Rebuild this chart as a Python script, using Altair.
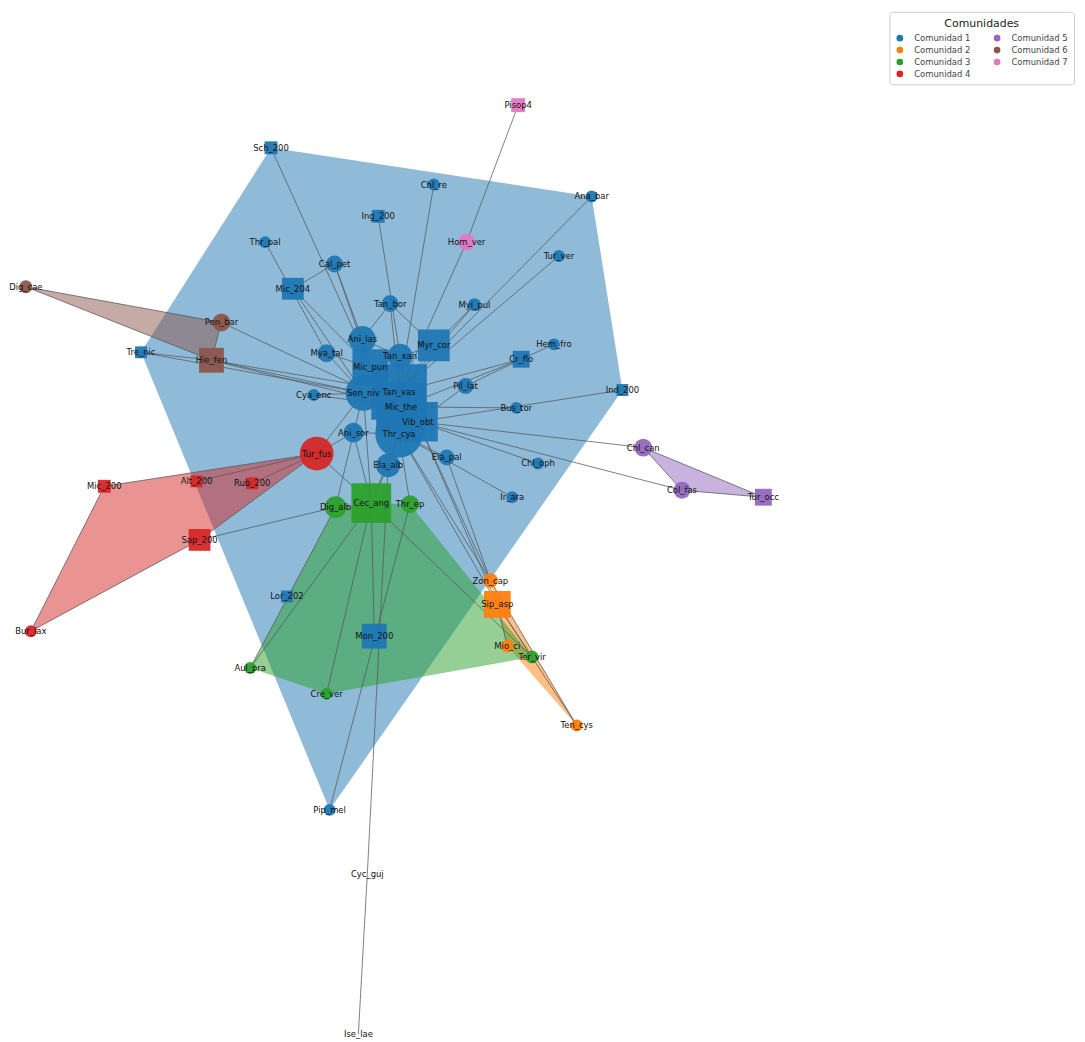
import altair as alt
import pandas as pd

# ---------------- data ----------------
names = [
    "Sch_200", "Chl_re", "Ana_bar", "Ing_200", "Thr_pal", "Cal_pet", "Tur_ver", "Mic_204",
    "Tan_bor", "Myi_pul", "Hem_fro", "Tre_nic", "Ani_las", "Myr_cor", "Mya_tal", "Tan_xan",
    "Mic_pun", "Cr_flo", "Pil_lat", "Sen_niv", "Tan_vas", "Mic_the", "Vib_obt", "Thr_cya",
    "Cya_enc", "Bus_tor", "Ind_200", "Ani_sor", "Ela_alb", "Ela_pal", "Chl_oph", "Ir_ara",
    "Lor_202", "Mon_200", "Pip_mel",
    "Zon_cap", "Sip_asp", "Mio_ci", "Ten_cys",
    "Cec_ang", "Dig_alb", "Thr_ep", "Aul_pra", "Cre_ver", "Ter_vir",
    "Tur_fus", "Alt_200", "Rub_200", "Mic_200", "Sap_200", "Bur_lax",
    "Chl_can", "Col_fas", "Tur_occ",
    "Dig_cae", "Pen_bar", "Hie_fen",
    "Pisop4", "Hom_ver",
    "Cyc_guj", "Ise_lae",
]
x_pos = [
    273, 437, 596, 381, 267, 337, 563, 295,
    393, 478, 558, 142, 365, 437, 329, 403,
    373, 525, 469, 366, 402, 404, 421, 402,
    316, 520, 627, 356, 391, 450, 542, 516,
    289, 377, 332,
    494, 501, 511, 581,
    374, 338, 413, 252, 329, 536,
    319, 198, 254, 105, 201, 31,
    648, 687, 769,
    26, 223, 213,
    522, 470,
    370, 361,
]
y_pos = [
    145, 182, 194, 214, 240, 262, 254, 287,
    302, 303, 343, 351, 338, 344, 352, 355,
    366, 358, 385, 392, 391, 406, 421, 433,
    394, 407, 389, 432, 465, 457, 463, 497,
    597, 637, 812,
    581, 605, 647, 727,
    503, 507, 504, 669, 695, 658,
    453, 481, 483, 486, 540, 632,
    447, 490, 497,
    285, 321, 359,
    102, 240,
    877, 1038,
]
community = [
    1, 1, 1, 1, 1, 1, 1, 1,
    1, 1, 1, 1, 1, 1, 1, 1,
    1, 1, 1, 1, 1, 1, 1, 1,
    1, 1, 1, 1, 1, 1, 1, 1,
    1, 1, 1,
    2, 2, 2, 2,
    3, 3, 3, 3, 3, 3,
    4, 4, 4, 4, 4, 4,
    5, 5, 5,
    6, 6, 6,
    7, 7,
    0, 0,
]
node_shape = [
    "square", "circle", "circle", "square", "circle", "circle", "circle", "square",
    "circle", "circle", "circle", "square", "circle", "square", "circle", "circle",
    "square", "square", "circle", "circle", "square", "square", "square", "circle",
    "circle", "circle", "square", "circle", "circle", "circle", "circle", "circle",
    "square", "square", "circle",
    "circle", "square", "circle", "circle",
    "square", "circle", "circle", "circle", "circle", "circle",
    "circle", "square", "square", "square", "square", "circle",
    "circle", "circle", "square",
    "circle", "circle", "square",
    "square", "circle",
    "circle", "circle",
]
node_weight = [
    13, 12, 12, 13, 12, 17, 12, 22,
    17, 13, 12, 12, 27, 32, 18, 25,
    36, 17, 16, 36, 56, 50, 40, 48,
    12, 12, 12, 20, 24, 16, 12, 12,
    12, 25, 12,
    15, 27, 13, 12,
    40, 22, 18, 12, 12, 13,
    34, 12, 12, 13, 22, 12,
    18, 17, 17,
    13, 18, 25,
    14, 17,
    0, 0,
]

edge_src = [
    "Sch_200", "Chl_re", "Ana_bar", "Tur_ver", "Ing_200", "Pisop4", "Hom_ver", "Thr_pal",
    "Cal_pet", "Cal_pet", "Cal_pet", "Mic_204", "Mic_204", "Tan_bor", "Tan_bor", "Tan_bor",
    "Myi_pul", "Myi_pul", "Mya_tal", "Mya_tal", "Pen_bar", "Pen_bar", "Dig_cae", "Dig_cae",
    "Tre_nic", "Tre_nic", "Hie_fen", "Hie_fen", "Hie_fen", "Cya_enc", "Cya_enc", "Hem_fro",
    "Cr_flo", "Cr_flo", "Cr_flo", "Pil_lat", "Ind_200", "Bus_tor", "Chl_can", "Col_fas",
    "Chl_can", "Col_fas", "Chl_can", "Chl_oph", "Ir_ara", "Ela_pal", "Thr_cya", "Vib_obt",
    "Vib_obt", "Tur_fus", "Tur_fus", "Tur_fus", "Tur_fus", "Tur_fus", "Tur_fus", "Tur_fus",
    "Sap_200", "Bur_lax", "Bur_lax", "Cec_ang", "Cec_ang", "Cec_ang", "Cec_ang", "Dig_alb",
    "Thr_ep", "Cec_ang", "Dig_alb", "Cec_ang", "Cec_ang", "Thr_ep", "Ela_alb", "Cyc_guj",
    "Cec_ang", "Sip_asp", "Zon_cap", "Sip_asp", "Mio_ci", "Myr_cor", "Ani_las", "Tan_xan",
    "Ela_alb", "Ani_sor", "Ela_pal", "Thr_cya", "Ani_las", "Myr_cor",
]
edge_dst = [
    "Mic_pun", "Tan_vas", "Tan_vas", "Tan_vas", "Tan_xan", "Hom_ver", "Tan_vas", "Mya_tal",
    "Mic_204", "Ani_las", "Mic_pun", "Mic_pun", "Sen_niv", "Ani_las", "Myr_cor", "Mic_the",
    "Myr_cor", "Tan_vas", "Mic_pun", "Sen_niv", "Mic_the", "Hie_fen", "Hie_fen", "Pen_bar",
    "Hie_fen", "Sen_niv", "Sen_niv", "Mic_the", "Tan_vas", "Sen_niv", "Mic_the", "Cr_flo",
    "Tan_vas", "Mic_the", "Pil_lat", "Vib_obt", "Vib_obt", "Mic_the", "Vib_obt", "Vib_obt",
    "Tur_occ", "Tur_occ", "Col_fas", "Vib_obt", "Thr_cya", "Zon_cap", "Zon_cap", "Zon_cap",
    "Sip_asp", "Sen_niv", "Ani_sor", "Alt_200", "Mic_200", "Rub_200", "Sap_200", "Cec_ang",
    "Dig_alb", "Sap_200", "Mic_200", "Thr_cya", "Ela_alb", "Ani_sor", "Sen_niv", "Sen_niv",
    "Thr_cya", "Aul_pra", "Aul_pra", "Cre_ver", "Mon_200", "Pip_mel", "Cyc_guj", "Ise_lae",
    "Ter_vir", "Ten_cys", "Ten_cys", "Ter_vir", "Sip_asp", "Tan_vas", "Mic_pun", "Tan_vas",
    "Thr_cya", "Thr_cya", "Thr_cya", "Sip_asp", "Tan_xan", "Mic_pun",
]

community_labels = ["Comunidad 1", "Comunidad 2", "Comunidad 3", "Comunidad 4",
                    "Comunidad 5", "Comunidad 6", "Comunidad 7"]
community_colors = ["#1f77b4", "#ff7f0e", "#2ca02c", "#d62728",
                    "#9467bd", "#8c564b", "#e377c2"]

# ---------------- tables ----------------
nodes = pd.DataFrame({
    "name": names, "x": x_pos, "y": y_pos, "com": community,
    "shape": node_shape, "w": node_weight,
})
nodes["Comunidad"] = nodes["com"].apply(lambda c: community_labels[c - 1] if c > 0 else "")
nodes["area"] = nodes["w"] ** 2

pos = nodes.set_index("name")
edges = pd.DataFrame({"src": edge_src, "dst": edge_dst})
edges["x"] = edges["src"].map(pos["x"])
edges["y"] = edges["src"].map(pos["y"])
edges["x2"] = edges["dst"].map(pos["x"])
edges["y2"] = edges["dst"].map(pos["y"])


def convex_hull(points):
    pts = sorted(set(points))
    if len(pts) <= 2:
        return pts

    def cross(o, a, b):
        return (a[0] - o[0]) * (b[1] - o[1]) - (a[1] - o[1]) * (b[0] - o[0])

    lower, upper = [], []
    for p in pts:
        while len(lower) >= 2 and cross(lower[-2], lower[-1], p) <= 0:
            lower.pop()
        lower.append(p)
    for p in reversed(pts):
        while len(upper) >= 2 and cross(upper[-2], upper[-1], p) <= 0:
            upper.pop()
        upper.append(p)
    return lower[:-1] + upper[:-1]


hull_rows = []
for c in range(1, 8):
    sub = nodes[nodes["com"] == c]
    hull = convex_hull(list(zip(sub["x"], sub["y"])))
    if len(hull) < 3:
        continue
    hull = hull + [hull[0]]
    for i, (hx, hy) in enumerate(hull):
        hull_rows.append({"com": c, "x": hx, "y": hy, "ord": i,
                          "hex": community_colors[c - 1]})
hulls = pd.DataFrame(hull_rows)

# ---------------- chart ----------------
xs = alt.Scale(domain=[8, 1085], nice=False, zero=False)
ys = alt.Scale(domain=[8, 1042], nice=False, zero=False, reverse=True)

color_scale = alt.Scale(domain=community_labels, range=community_colors)

hull_layer = alt.Chart(hulls).mark_line(
    fillOpacity=0.5, strokeOpacity=0.0, interpolate="linear"
).encode(
    x=alt.X("x:Q", scale=xs, axis=None),
    y=alt.Y("y:Q", scale=ys, axis=None),
    order="ord:Q",
    detail="com:N",
    fill=alt.Fill("hex:N", scale=None),
)

edge_layer = alt.Chart(edges).mark_rule(color="#555555", strokeWidth=1, opacity=0.75).encode(
    x=alt.X("x:Q", scale=xs, axis=None),
    y=alt.Y("y:Q", scale=ys, axis=None),
    x2="x2:Q",
    y2="y2:Q",
)

node_layer = alt.Chart(nodes).transform_filter("datum.com > 0").mark_point(
    filled=True, opacity=0.95
).encode(
    x=alt.X("x:Q", scale=xs, axis=None),
    y=alt.Y("y:Q", scale=ys, axis=None),
    color=alt.Color("Comunidad:N", scale=color_scale, legend=alt.Legend(
        title="Comunidades", orient="none", legendX=888, legendY=0, columns=2,
        symbolType="circle", symbolSize=45, symbolOpacity=1,
        titleAnchor="middle", titleFontSize=11, titleFontWeight="normal",
        titleFont="DejaVu Sans", titleColor="#222222",
        labelFont="DejaVu Sans", labelFontSize=8.5, labelColor="#444444",
        strokeColor="#cccccc", fillColor="white", cornerRadius=3, padding=6,
        columnPadding=22, rowPadding=3, labelOffset=10,
    )),
    shape=alt.Shape("shape:N", scale=alt.Scale(domain=["circle", "square"],
                                               range=["circle", "square"]), legend=None),
    size=alt.Size("area:Q", scale=None),
)

label_layer = alt.Chart(nodes).mark_text(
    font="DejaVu Sans", fontSize=8.5, color="#111111"
).encode(
    x=alt.X("x:Q", scale=xs, axis=None),
    y=alt.Y("y:Q", scale=ys, axis=None),
    text="name:N",
)

chart = alt.layer(hull_layer, edge_layer, node_layer, label_layer).properties(
    width=1077, height=1034, padding=0, autosize=alt.AutoSizeParams(type="none"),
).configure_view(stroke=None)

chart.save("out.html", embed_options={"renderer": "svg", "actions": False})
